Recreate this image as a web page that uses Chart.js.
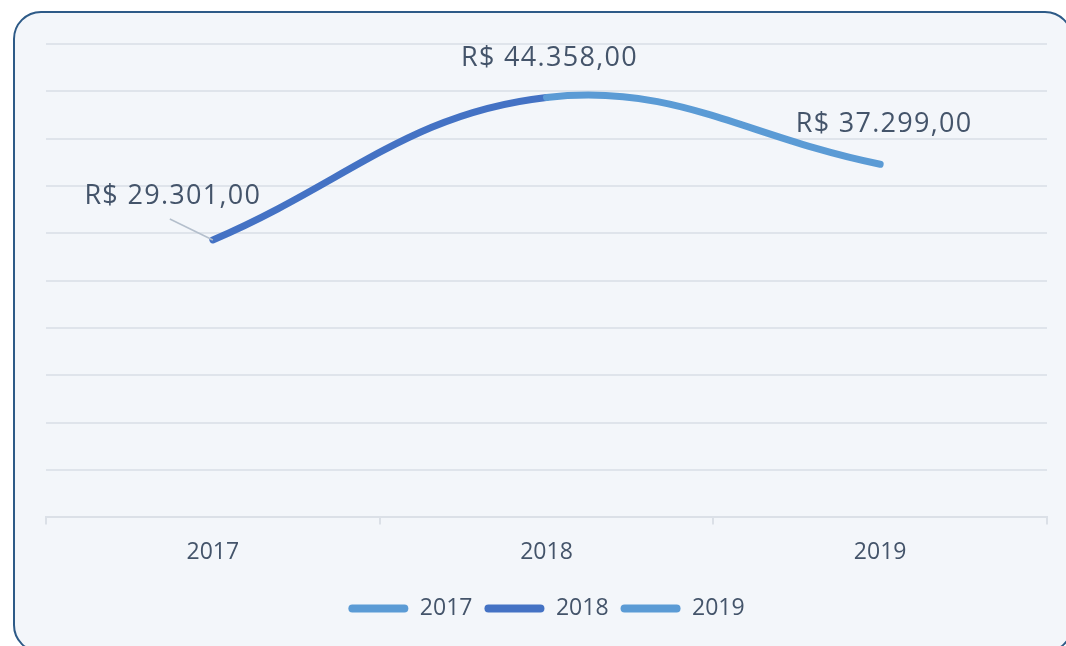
<!DOCTYPE html>
<html>
<head>
<meta charset="utf-8">
<script src="https://cdn.jsdelivr.net/npm/chart.js@4/dist/chart.umd.min.js"></script>
<style>
  html, body { margin: 0; padding: 0; background: #ffffff; }
  body { width: 1066px; height: 646px; position: relative; overflow: hidden; }
  #frame {
    position: absolute; left: 13px; top: 11px;
    width: 1056px; height: 638px;
    border: 2px solid #2d5a87; border-radius: 28px;
    background: #f3f6fa;
  }
  #myChart { position: absolute; left: 0; top: 0; }
</style>
</head>
<body>
<div id="frame"></div>
<canvas id="myChart" width="1066" height="646"></canvas>
<script>
// data
const years = ["2017", "2018", "2019"];
const totals = [29301, 44358, 37299];
const yearColors = ["#5b9bd5", "#4472c4", "#5b9bd5"];

const textColor = "#44546a";

function formatBRL(v) {
    let parts = v.toFixed(2).split(".");
    let intPart = parts[0].replace(/\B(?=(\d{3})+(?!\d))/g, ".");
    return "R$ " + intPart + "," + parts[1];
}

// data labels drawn by hand (no datalabels plugin available)
const labelPlugin = {
    id: "valueLabels",
    afterDatasetsDraw(chart) {
        const ctx = chart.ctx;
        const meta = chart.getDatasetMeta(0);
        const offsets = [[-40, -44], [3, -39], [4, -40]];
        ctx.save();
        ctx.font = "27px 'Open Sans'";
        ctx.letterSpacing = "1.3px";
        ctx.fillStyle = textColor;
        ctx.textAlign = "center";
        ctx.textBaseline = "middle";
        meta.data.forEach((pt, i) => {
            let lx = pt.x + offsets[i][0];
            let ly = pt.y + offsets[i][1];
            ctx.fillText(formatBRL(totals[i]), lx, ly);
            if (i === 0) {
                // leader line for the first label
                ctx.strokeStyle = "#b4bfcc";
                ctx.lineWidth = 1.5;
                ctx.beginPath();
                ctx.moveTo(lx - 3, ly + 23);
                ctx.lineTo(pt.x, pt.y);
                ctx.stroke();
            }
        });
        ctx.restore();
    }
};

new Chart("myChart", {
    type: "line",
    data: {
        labels: years,
        datasets: [{
            data: totals,
            borderWidth: 7,
            borderCapStyle: "round",
            borderColor: yearColors[1],
            tension: 0.4,
            pointRadius: 0,
            segment: {
                borderColor: ctx => yearColors[ctx.p1DataIndex]
            }
        }]
    },
    options: {
        responsive: false,
        animation: false,
        layout: { padding: { left: 46, right: 19, top: 44, bottom: 16 } },
        scales: {
            x: {
                offset: true,
                grid: { offset: true, drawOnChartArea: false, tickLength: 7, color: "#dbe0e7", lineWidth: 2 },
                border: { color: "#dbe0e7", width: 2 },
                ticks: { color: textColor, font: { family: "Open Sans", size: 23 }, padding: 14 },
                afterFit: scale => { scale.height += 5; }
            },
            y: {
                min: 0,
                max: 50000,
                ticks: { stepSize: 5000, display: false },
                border: { display: false },
                grid: { color: "#dfe4eb", lineWidth: 2, drawTicks: false },
                afterFit: scale => { scale.width = 0; }
            }
        },
        plugins: {
            tooltip: { enabled: false },
            legend: {
                position: "bottom",
                labels: {
                    boxWidth: 60,
                    boxHeight: 8,
                    useBorderRadius: true,
                    borderRadius: 4,
                    padding: 12,
                    color: textColor,
                    font: { family: "Open Sans", size: 23 },
                    generateLabels: () => years.map((y, i) => ({
                        text: y,
                        fillStyle: yearColors[i],
                        strokeStyle: yearColors[i],
                        lineWidth: 0,
                        borderRadius: 4,
                        fontColor: textColor,
                        hidden: false,
                        datasetIndex: 0
                    }))
                }
            }
        }
    },
    plugins: [labelPlugin]
});
</script>
</body>
</html>
